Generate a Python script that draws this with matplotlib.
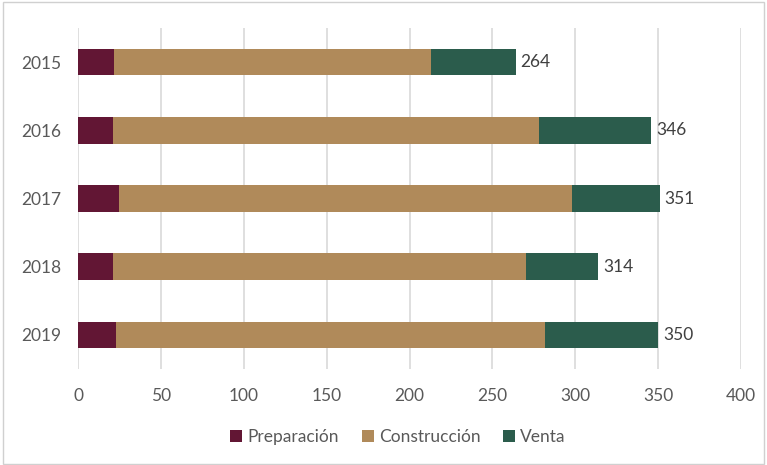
import matplotlib
matplotlib.use("Agg")
import matplotlib.pyplot as plt
import numpy as np

years = ["2015", "2016", "2017", "2018", "2019"]
preparacion = [22, 21, 25, 21, 23]
construccion = [191, 257, 273, 249, 259]
venta = [51, 68, 53, 44, 68]
series_names = ["Preparación", "Construcción", "Venta"]
colors = ["#621634", "#B08A5A", "#2B5C4C"]
xticks = [0, 50, 100, 150, 200, 250, 300, 350, 400]

plt.rcParams['font.family'] = ['Lato', 'DejaVu Sans']

fig = plt.figure(figsize=(7.67, 4.65), dpi=100)
ax = fig.add_axes([78/767, 1-369/465, (741-78)/767, (369-28)/465])

y = np.arange(len(years))
left = np.zeros(len(years))
bars = []
for vals, name, c in zip([preparacion, construccion, venta], series_names, colors):
    b = ax.barh(y, vals, left=left, height=0.39, color=c, label=name, zorder=3)
    bars.append(b)
    left = left + np.array(vals)

totals = left
for yi, t in zip(y, totals):
    ax.text(t + 3, yi, f"{int(t)}", va='center', ha='left', fontsize=12.5, color='#404040')

ax.set_xlim(0, 400)
ax.set_ylim(len(years) - 0.5, -0.5)
ax.set_yticks(y)
ax.set_yticklabels(years)
ax.set_xticks(xticks)
ax.tick_params(axis='both', length=0, labelsize=12.5, colors='#595959')
ax.tick_params(axis='x', pad=14)
ax.tick_params(axis='y', pad=12)
ax.grid(axis='x', color='#D9D9D9', linewidth=1.2, zorder=0)
for s in ax.spines.values():
    s.set_visible(False)

leg = fig.legend(handles=bars, labels=series_names, loc='center', bbox_to_anchor=(398/767, 1-437/465),
                 ncol=3, frameon=False, fontsize=12.5, handlelength=0.7, handleheight=0.7,
                 handletextpad=0.3, columnspacing=1.3)
for t in leg.get_texts():
    t.set_color('#595959')

fig.patches.append(plt.Rectangle((3/767, 0.002), 1-6/767, 0.994, transform=fig.transFigure,
                                 fill=False, edgecolor='#D0D0D0', linewidth=1))

fig.savefig("out.png", dpi=100)
